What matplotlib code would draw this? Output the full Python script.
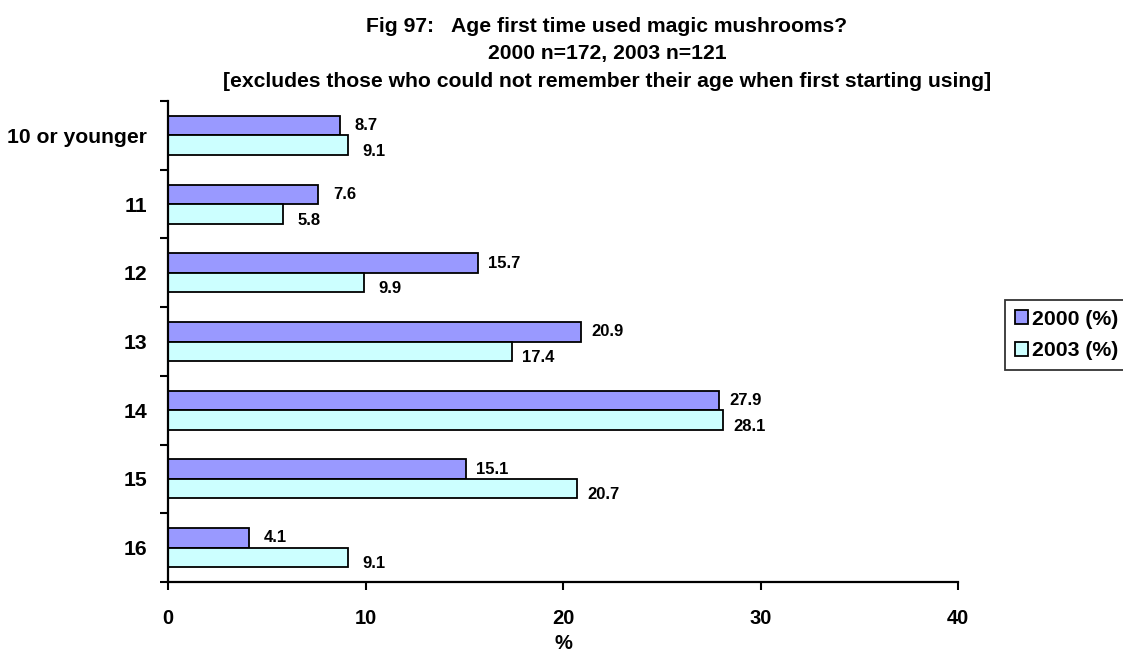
import numpy as np
import matplotlib
matplotlib.use('Agg')
import matplotlib.pyplot as plt

# Data
categories = ['10 or younger', '11', '12', '13', '14', '15', '16']
pct_2000 = [8.7, 7.6, 15.7, 20.9, 27.9, 15.1, 4.1]
pct_2003 = [9.1, 5.8, 9.9, 17.4, 28.1, 20.7, 9.1]
x_ticks = [0, 10, 20, 30, 40]

plt.rcParams['font.family'] = ['Liberation Sans', 'DejaVu Sans']
plt.rcParams['font.weight'] = 'bold'

W, H = 1123, 651
fig = plt.figure(figsize=(W / 100, H / 100), dpi=100)
ax = fig.add_axes([168 / W, 1 - 582 / H, (958 - 168) / W, (582 - 101) / H])

y = np.arange(len(categories))
h = 0.284
bars1 = ax.barh(y - h / 2, pct_2000, height=h, color='#9999FF', edgecolor='black', linewidth=1.3, label='2000 (%)')
bars2 = ax.barh(y + h / 2, pct_2003, height=h, color='#CCFFFF', edgecolor='black', linewidth=1.3, label='2003 (%)')

# value labels: 2000 at bar centre, 2003 a bit lower
for b, v in zip(bars1, pct_2000):
    ax.annotate(f'{v:.1f}', (v, b.get_y() + b.get_height() / 2), xytext=(19, 0),
                textcoords='offset points', va='center', ha='center', fontsize=12, fontweight='bold')
for b, v in zip(bars2, pct_2003):
    ax.annotate(f'{v:.1f}', (v, b.get_y() + b.get_height() / 2), xytext=(19, -4.5),
                textcoords='offset points', va='center', ha='center', fontsize=12, fontweight='bold')

ax.set_xlim(0, 40)
ax.set_ylim(len(categories) - 0.5, -0.5)
ax.set_xticks(x_ticks)
ax.set_xticklabels([str(t) for t in x_ticks], fontsize=14.5, fontweight='bold')
ax.set_yticks(y)
ax.set_yticklabels(categories, fontsize=15.2, fontweight='bold')
ax.set_yticks(np.arange(len(categories) + 1) - 0.5, minor=True)
ax.tick_params(axis='y', which='major', length=0, pad=15)
ax.tick_params(axis='y', which='minor', length=6, width=1.5, direction='out')
ax.tick_params(axis='x', which='major', length=6, width=1.5, direction='out', pad=13.5)

for s in ['top', 'right']:
    ax.spines[s].set_visible(False)
for s in ['left', 'bottom']:
    ax.spines[s].set_linewidth(1.6)

ax.set_xlabel('%', fontsize=14.5, fontweight='bold', labelpad=4)

# title, three centred lines
title_lines = ['Fig 97:   Age first time used magic mushrooms?',
               '2000 n=172, 2003 n=121',
               '[excludes those who could not remember their age when first starting using]']
for i, line in enumerate(title_lines):
    fig.text(607 / W, 1 - (32 + 27.5 * i) / H, line, ha='center', va='baseline',
             fontsize=15.2, fontweight='bold')

leg = ax.legend(loc='upper left', bbox_to_anchor=(1005 / W, 1 - 300 / H), bbox_transform=fig.transFigure,
                frameon=True, fancybox=False, edgecolor='black', fontsize=15.3, handlelength=0.62, handleheight=0.62,
                handletextpad=0.19, borderpad=0.45, labelspacing=0.6, borderaxespad=0)
leg.get_frame().set_linewidth(1.3)
for t in leg.get_texts():
    t.set_fontweight('bold')

fig.savefig('out.png', dpi=100)
